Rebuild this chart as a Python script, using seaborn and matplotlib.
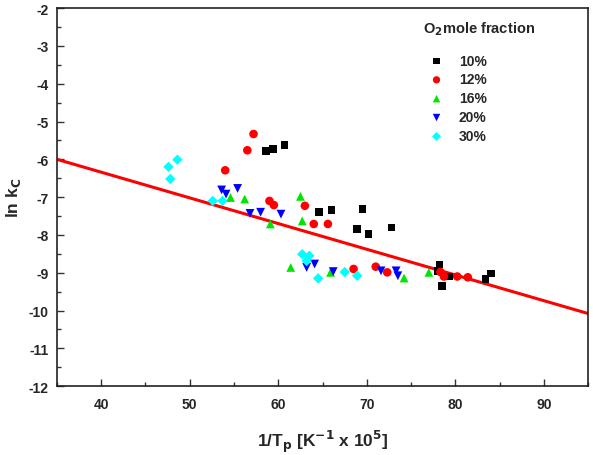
import pandas as pd
import matplotlib.pyplot as plt
import seaborn as sns
from matplotlib.ticker import MultipleLocator

# O2 mole fraction groups
x_10 = [58.6, 59.4, 60.7, 64.6, 66.0, 69.5, 68.9, 70.2, 72.8, 78.2, 78.0, 79.3, 78.5, 83.4, 84.0]
y_10 = [-5.78, -5.73, -5.62, -7.40, -7.34, -7.32, -7.85, -7.98, -7.80, -8.78, -8.95, -9.10, -9.35, -9.17, -9.02]

x_12 = [57.2, 56.5, 54.0, 59.0, 59.5, 63.0, 64.0, 65.6, 68.5, 71.0, 72.3, 78.3, 78.7, 80.2, 81.4]
y_12 = [-5.33, -5.76, -6.29, -7.10, -7.21, -7.23, -7.71, -7.71, -8.90, -8.84, -8.99, -8.98, -9.10, -9.10, -9.12]

x_16 = [54.6, 56.2, 59.1, 61.4, 62.5, 62.7, 65.9, 74.2, 77.0]
y_16 = [-7.01, -7.05, -7.71, -8.86, -6.98, -7.63, -8.99, -9.14, -8.99]

x_20 = [53.6, 54.1, 55.4, 56.8, 58.0, 60.3, 63.2, 64.1, 66.2, 71.6, 73.3, 73.5]
y_20 = [-6.81, -6.92, -6.77, -7.43, -7.40, -7.45, -8.86, -8.77, -8.97, -8.95, -8.95, -9.08]

x_30 = [48.6, 47.6, 47.8, 52.6, 53.7, 62.7, 63.5, 63.2, 64.5, 67.5, 68.9]
y_30 = [-6.01, -6.20, -6.52, -7.10, -7.10, -8.51, -8.55, -8.69, -9.15, -8.98, -9.08]

groups = ["10%", "12%", "16%", "20%", "30%"]

# linear fit shown as red line
fit_intercept = -3.62
fit_slope = -0.068
x_range = [35, 95]

rows = []
for g, xs, ys in zip(groups, [x_10, x_12, x_16, x_20, x_30], [y_10, y_12, y_16, y_20, y_30]):
    for a, b in zip(xs, ys):
        rows.append({"x": a, "lnk": b, "O2": g})
df = pd.DataFrame(rows)
fit = pd.DataFrame({"x": x_range})
fit["lnk"] = fit_intercept + fit_slope * fit["x"]

sns.set_style("white")
plt.rcParams["font.family"] = ["Liberation Sans", "DejaVu Sans"]
plt.rcParams["font.weight"] = "bold"
plt.rcParams["mathtext.default"] = "bf"
plt.rcParams["axes.unicode_minus"] = False

fig = plt.figure(figsize=(5.93, 4.56), dpi=100)
ax = fig.add_axes([0.096, 0.151, 0.896, 0.829])

sns.lineplot(data=fit, x="x", y="lnk", color="#ff0000", lw=2.2, ax=ax, legend=False)

palette = {"10%": "black", "12%": "#ff0000", "16%": "#00e600", "20%": "#0000ff", "30%": "#00ffff"}
markers = {"10%": "s", "12%": "o", "16%": "^", "20%": "v", "30%": "D"}
sizes = {"10%": 30, "12%": 38, "16%": 40, "20%": 40, "30%": 28}
for g in groups:
    sub = df[df["O2"] == g]
    sns.scatterplot(data=sub, x="x", y="lnk", color=palette[g], marker=markers[g],
                    s=sizes[g], edgecolor="none", label=g, ax=ax, zorder=3)

ax.set_xlim(35, 95)
ax.set_ylim(-12, -2)
ax.xaxis.set_major_locator(MultipleLocator(10))
ax.xaxis.set_minor_locator(MultipleLocator(5))
ax.yaxis.set_major_locator(MultipleLocator(1))
ax.yaxis.set_minor_locator(MultipleLocator(0.5))
ax.tick_params(which="both", direction="in", bottom=True, left=True, top=False, right=False,
               labelsize=10, width=1, color="#333333")
ax.tick_params(which="major", length=5)
ax.tick_params(which="minor", length=3)
ax.tick_params(axis="x", pad=8)
ax.tick_params(axis="y", pad=6)
for lab in ax.get_xticklabels() + ax.get_yticklabels():
    lab.set_fontweight("bold")
for sp in ax.spines.values():
    sp.set_color("#222222")
    sp.set_linewidth(1.2)

ax.set_xlabel("1/T$_p$ [K$^{-1}$ x 10$^5$]", fontsize=12.5, fontweight="bold", labelpad=12)
ax.set_ylabel("ln k$_C$", fontsize=12.5, fontweight="bold", labelpad=4)

leg = ax.legend(title="O$_2$mole fraction", loc="upper right", bbox_to_anchor=(0.92, 1.0),
                frameon=False, fontsize=10, title_fontsize=10.5, alignment="left",
                handletextpad=0.6, labelspacing=0.35, markerscale=0.85, borderpad=0.3)
leg._legend_box.sep = 12  # extra gap between title and entries
leg.get_title().set_fontweight("bold")
for t in leg.get_texts():
    t.set_fontweight("bold")

fig.savefig("out.png", dpi=100)
